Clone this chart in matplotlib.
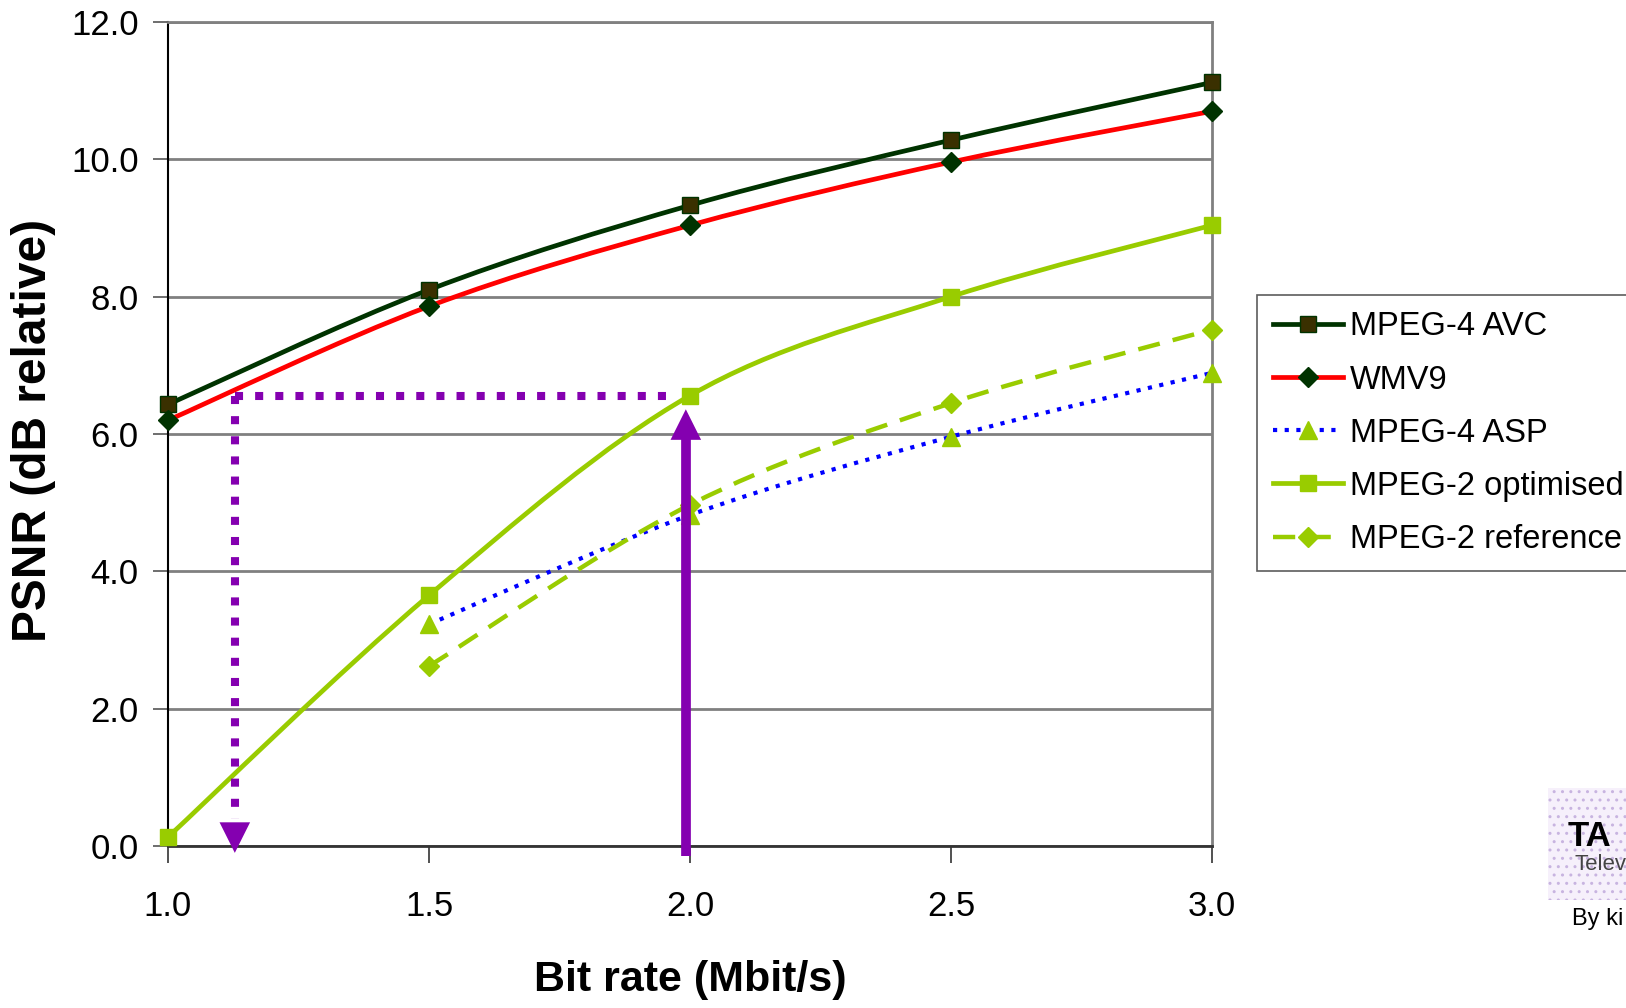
import numpy as np
import matplotlib
matplotlib.use('Agg')
import matplotlib.pyplot as plt
from matplotlib.path import Path
from matplotlib.patches import PathPatch, Rectangle
from matplotlib.lines import Line2D

plt.rcParams['font.family'] = ['Liberation Sans', 'DejaVu Sans']

# data
bitrate = [1.0, 1.5, 2.0, 2.5, 3.0]
bitrate_mpeg2ref = [1.5, 2.0, 2.5, 3.0]
psnr_avc = [6.43, 8.10, 9.33, 10.28, 11.12]
psnr_wmv9 = [6.20, 7.86, 9.04, 9.96, 10.70]
psnr_asp = [3.23, 4.82, 5.96, 6.89]
psnr_mpeg2_opt = [0.13, 3.65, 6.56, 8.00, 9.04]
psnr_mpeg2_ref = [2.62, 4.97, 6.45, 7.52]

series_names = ['MPEG-4 AVC', 'WMV9', 'MPEG-4 ASP', 'MPEG-2 optimised', 'MPEG-2 reference']
xticks = [1.0, 1.5, 2.0, 2.5, 3.0]
yticks = [0, 2, 4, 6, 8, 10, 12]

# annotation: 2 Mbit/s of MPEG-2 optimised equals ~1.13 Mbit/s of AVC
arrow_x_from = 2.0
arrow_x_to = 1.128
arrow_level = 6.56

W, H = 1626, 1008
fig = plt.figure(figsize=(W/100.0, H/100.0), dpi=100)
ax = fig.add_axes([168.0/W, (H-846.0)/H, (1212.0-168.0)/W, (846.0-22.0)/H])


def smooth_path(x, y):
    # excel style smoothed line: bezier segments through the data points
    x = np.asarray(x, float)
    y = np.asarray(y, float)
    n = len(x)
    verts = [(x[0], y[0])]
    codes = [Path.MOVETO]
    for i in range(n-1):
        i0 = max(i-1, 0)
        i3 = min(i+2, n-1)
        c1 = (x[i] + (x[i+1]-x[i0])/6.0, y[i] + (y[i+1]-y[i0])/6.0)
        c2 = (x[i+1] - (x[i3]-x[i])/6.0, y[i+1] - (y[i3]-y[i])/6.0)
        verts += [c1, c2, (x[i+1], y[i+1])]
        codes += [Path.CURVE4]*3
    return Path(verts, codes)


styles = [
    dict(color='#003300', ls='-', lw=3.4, marker='s', mfc='#3a3000', mec='#003300', ms=11),
    dict(color='#ff0000', ls='-', lw=3.4, marker='D', mfc='#003300', mec='#003300', ms=10),
    dict(color='#0000ff', ls=(0, (1.0, 1.8)), lw=3.0, marker='^', mfc='#99cc00', mec='#99cc00', ms=13),
    dict(color='#99cc00', ls='-', lw=3.4, marker='s', mfc='#99cc00', mec='#99cc00', ms=11),
    dict(color='#99cc00', ls=(0, (5, 3)), lw=3.2, marker='D', mfc='#99cc00', mec='#99cc00', ms=10),
]
xs = [bitrate, bitrate, bitrate_mpeg2ref, bitrate, bitrate_mpeg2ref]
ys = [psnr_avc, psnr_wmv9, psnr_asp, psnr_mpeg2_opt, psnr_mpeg2_ref]

# draw back to front so AVC sits on top
order = [4, 2, 3, 1, 0]
for k in order:
    st = styles[k]
    patch = PathPatch(smooth_path(xs[k], ys[k]), fill=False, edgecolor=st['color'],
                      linestyle=st['ls'], linewidth=st['lw'], capstyle='butt', zorder=3+k*0.1)
    ax.add_patch(patch)
    ax.plot(xs[k], ys[k], linestyle='none', marker=st['marker'], markerfacecolor=st['mfc'],
            markeredgecolor=st['mec'], markersize=st['ms'], zorder=4+k*0.1, clip_on=False)

# purple arrows
purple = '#8400b0'
head = dict(arrowstyle='-|>,head_length=1.0,head_width=0.5', color=purple, lw=0,
            mutation_scale=22, shrinkA=0, shrinkB=0)
ax.plot([arrow_x_to, arrow_x_from-0.042], [arrow_level, arrow_level], color=purple, lw=5.8,
        linestyle=(0, (1.0, 1.5)), dash_capstyle='butt', zorder=6)
ax.plot([arrow_x_to, arrow_x_to], [arrow_level, 0.40], color=purple, lw=5.8,
        linestyle=(0, (1.0, 1.5)), dash_capstyle='butt', zorder=6)
ax.annotate('', xy=(arrow_x_to, -0.10), xytext=(arrow_x_to, 0.36),
            arrowprops=head, annotation_clip=False, zorder=7)
ax.plot([arrow_x_from-0.008, arrow_x_from-0.008], [-0.15, 5.95], color=purple, lw=7,
        solid_capstyle='butt', zorder=7, clip_on=False)
ax.annotate('', xy=(arrow_x_from-0.008, 6.36), xytext=(arrow_x_from-0.008, 5.90),
            arrowprops=head, annotation_clip=False, zorder=7)

ax.set_xlim(1.0, 3.0)
ax.set_ylim(0, 12)
ax.set_xticks(xticks)
ax.set_xticklabels(['%.1f' % v for v in xticks], fontsize=25)
ax.set_yticks(yticks)
ax.set_yticklabels(['%.1f' % v for v in yticks], fontsize=25)
ax.tick_params(axis='x', direction='out', length=12, width=1.2, color='#333333', pad=20)
ax.tick_params(axis='y', direction='out', length=11, width=1.2, color='#555555', pad=10)
ax.yaxis.grid(True, color='#808080', linewidth=2.0)
ax.set_axisbelow(True)
ax.spines['left'].set_color('black')
ax.spines['left'].set_linewidth(1.5)
ax.spines['bottom'].set_color('#333333')
ax.spines['bottom'].set_linewidth(2.0)
ax.spines['top'].set_color('#808080')
ax.spines['top'].set_linewidth(2.0)
ax.spines['right'].set_color('#808080')
ax.spines['right'].set_linewidth(2.0)

fig.text(690.0/W, 1-980.0/H, 'Bit rate (Mbit/s)', fontsize=31, fontweight='bold',
         ha='center', va='center')
fig.text(34.0/W, 1-430.0/H, 'PSNR (dB relative)', fontsize=34.5, fontweight='bold',
         rotation=90, ha='center', va='center')

# legend
handles = []
for k in range(5):
    st = styles[k]
    handles.append(Line2D([], [], color=st['color'], linestyle=st['ls'], linewidth=st['lw'],
                          marker=st['marker'], markerfacecolor=st['mfc'], markeredgecolor=st['mec'],
                          markersize=st['ms']))
leg = fig.legend(handles, series_names, loc='upper left', bbox_to_anchor=(1257.0/W, 1-295.0/H),
                 fontsize=23.5, frameon=True, fancybox=False, edgecolor='#333333',
                 handlelength=2.15, handletextpad=0.2, labelspacing=0.68, borderpad=0.5,
                 borderaxespad=0)
leg.get_frame().set_linewidth(1.2)

# cut-off logo in the corner
logo = Rectangle((1548.0/W, 1-900.0/H), 90.0/W, 112.0/H, transform=fig.transFigure,
                 facecolor='#f6f0fb', edgecolor='#c8b4e0', hatch='..', linewidth=0)
fig.patches.append(logo)
fig.text(1568.0/W, 1-836.0/H, 'TA', fontsize=25, fontweight='bold', ha='left', va='center')
fig.text(1574.0/W, 1-864.0/H, 'Telev', fontsize=16, color='#444444', ha='left', va='center')
fig.text(1572.0/W, 1-919.0/H, 'By ki', fontsize=17, ha='left', va='center')

plt.savefig('out.png', dpi=100)
